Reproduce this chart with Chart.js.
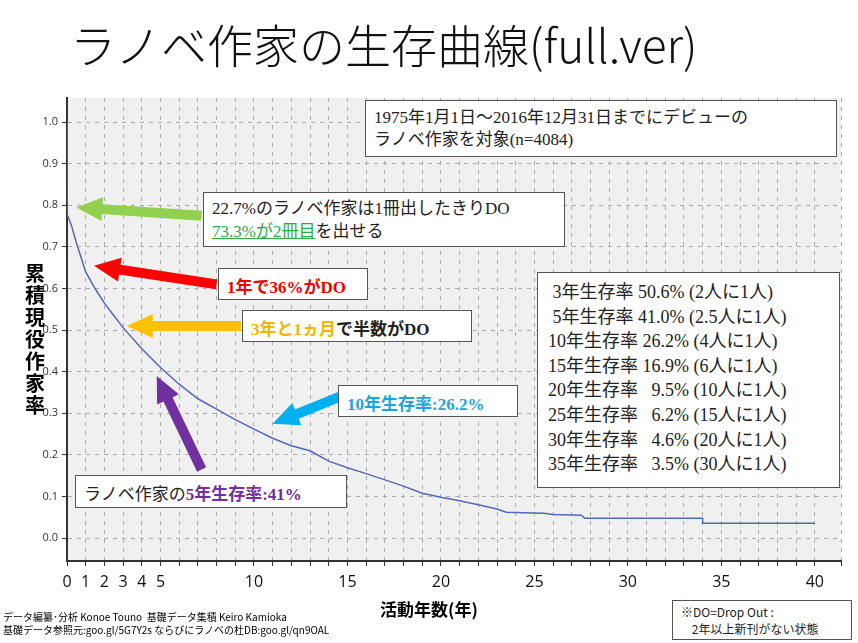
<!DOCTYPE html>
<html><head><meta charset="utf-8">
<script src="https://cdn.jsdelivr.net/npm/chart.js@4/dist/chart.umd.min.js"></script>
<style>
body{margin:0;width:858px;height:643px;position:relative;background:#fff;font-family:"Noto Sans CJK JP",sans-serif;overflow:hidden}
#wrap{position:absolute;left:0;top:0;width:858px;height:643px}
.box{position:absolute;background:#fff;border:1px solid #555;box-sizing:border-box;font-family:"Liberation Serif","Noto Sans CJK JP",serif;color:#222;white-space:nowrap}
.t{position:absolute;white-space:nowrap}
</style></head><body>
<div id="wrap"><canvas id="c" width="858" height="643"></canvas></div>
<div class="t" style="left:70px;top:10px;font-size:46px;color:#111;font-weight:300">ラノベ作家の生存曲線(full.ver)</div>
<div class="t" style="left:25px;top:262px;width:22px;font-size:20px;font-weight:bold;line-height:22px;white-space:normal">累積現役作家率</div>
<div class="t" style="left:380px;top:596px;font-size:17px;font-weight:bold">活動年数(年)</div>
<div class="t" style="left:3px;top:610px;font-size:10px;line-height:13px">データ編纂･分析 Konoe Touno&nbsp; 基礎データ集積 Keiro Kamioka<br>基礎データ参照元:goo.gl/5G7Y2s ならびにラノベの杜DB:goo.gl/qn9OAL</div>
<div class="box" style="left:365px;top:100px;width:472px;height:57px;font-size:17px;padding:6px 8px;line-height:22px">1975年1月1日～2016年12月31日までにデビューの<br>ラノベ作家を対象(n=4084)</div>
<div class="box" style="left:203px;top:192px;width:362px;height:55px;font-size:17px;padding:4px 8px;line-height:23px">22.7%のラノベ作家は1冊出したきりDO<br><span style="color:#2ea84f;text-decoration:underline">73.3%が2冊目</span>を出せる</div>
<div class="box" style="left:218px;top:268px;width:150px;height:32px;font-size:17px;font-weight:bold;color:#e00;padding:4px 8px">1年で36%がDO</div>
<div class="box" style="left:242px;top:310px;width:230px;height:32px;font-size:17px;font-weight:bold;padding:4px 8px"><span style="color:#f5b400">3年と1ヵ月</span>で半数がDO</div>
<div class="box" style="left:338px;top:385px;width:180px;height:32px;font-size:17px;font-weight:bold;color:#1aa5e0;padding:4px 8px">10年生存率:26.2%</div>
<div class="box" style="left:75px;top:475px;width:272px;height:33px;font-size:17px;padding:4px 8px">ラノベ作家の<b style="color:#7030a0">5年生存率:41%</b></div>
<div class="box" style="left:537px;top:272px;width:303px;height:216px;font-size:18px;padding:7px 10px;line-height:24.6px">
&nbsp;3年生存率 50.6% (2人に1人)<br>&nbsp;5年生存率 41.0% (2.5人に1人)<br>10年生存率 26.2% (4人に1人)<br>15年生存率 16.9% (6人に1人)<br>20年生存率&nbsp;&nbsp; 9.5% (10人に1人)<br>25年生存率&nbsp;&nbsp; 6.2% (15人に1人)<br>30年生存率&nbsp;&nbsp; 4.6% (20人に1人)<br>35年生存率&nbsp;&nbsp; 3.5% (30人に1人)</div>
<div class="box" style="left:672px;top:600px;width:180px;height:40px;font-size:12px;padding:2px 8px;line-height:17px;font-family:'Noto Sans CJK JP'">※DO=Drop Out :<br>&nbsp;&nbsp;&nbsp;&nbsp;2年以上新刊がない状態</div>
<script>
// survival curve
const years = [0, 0, 0.25, 0.5, 1, 1.5, 2, 2.5, 3, 4, 5, 6, 7, 8, 9, 10, 11, 12, 13, 14, 15, 16, 17, 18, 19, 20, 21, 22, 23, 23.5, 25.5, 26, 27.5, 27.7, 34, 34, 40];
const survival = [1.0, 0.78, 0.75, 0.71, 0.64, 0.60, 0.565, 0.535, 0.506, 0.455, 0.41, 0.37, 0.335, 0.31, 0.285, 0.262, 0.24, 0.222, 0.21, 0.185, 0.169, 0.155, 0.14, 0.125, 0.108, 0.098, 0.09, 0.08, 0.07, 0.062, 0.06, 0.057, 0.055, 0.048, 0.048, 0.036, 0.036];
const xLabelYears = [0, 1, 2, 3, 4, 5, 10, 15, 20, 25, 30, 35, 40];
const yTicks = [0, 0.1, 0.2, 0.3, 0.4, 0.5, 0.6, 0.7, 0.8, 0.9, 1.0];

// arrows: [tailYear, tailVal, tipYear, tipVal, colour]
const arrows = [
    [7.2, 0.775, 0.5, 0.795, '#92d050'],
    [8.0, 0.61, 1.45, 0.655, '#ff0000'],
    [9.3, 0.51, 3.2, 0.51, '#ffc000'],
    [14.6, 0.34, 11.0, 0.275, '#00b0f0'],
    [7.2, 0.165, 4.8, 0.39, '#7030a0']
];

const arrowPlugin = {
    id: 'arrows',
    afterDatasetsDraw(chart) {
        const { ctx, scales: { x, y } } = chart;
        arrows.forEach(([x0, y0, x1, y1, col]) => {
            const ax = x.getPixelForValue(x0), ay = y.getPixelForValue(y0);
            const bx = x.getPixelForValue(x1), by = y.getPixelForValue(y1);
            const ang = Math.atan2(by - ay, bx - ax);
            const head = 26, hw = 12, sw = 5;
            const hx = bx - head * Math.cos(ang), hy = by - head * Math.sin(ang);
            const nx = -Math.sin(ang), ny = Math.cos(ang);
            ctx.save();
            ctx.fillStyle = col;
            ctx.beginPath();
            ctx.moveTo(ax + nx * sw, ay + ny * sw);
            ctx.lineTo(hx + nx * sw, hy + ny * sw);
            ctx.lineTo(hx + nx * hw, hy + ny * hw);
            ctx.lineTo(bx, by);
            ctx.lineTo(hx - nx * hw, hy - ny * hw);
            ctx.lineTo(hx - nx * sw, hy - ny * sw);
            ctx.lineTo(ax - nx * sw, ay - ny * sw);
            ctx.closePath();
            ctx.fill();
            ctx.restore();
        });
    }
};

const bgPlugin = {
    id: 'bg',
    beforeDraw(chart) {
        const { ctx, chartArea: a } = chart;
        ctx.save();
        ctx.fillStyle = '#f0f0f0';
        ctx.fillRect(a.left, a.top, a.right - a.left, a.bottom - a.top);
        ctx.restore();
    }
};

new Chart(document.getElementById('c'), {
    type: 'line',
    data: { datasets: [{
        data: years.map((v, i) => ({ x: v, y: survival[i] })),
        borderColor: '#5468b4', borderWidth: 1.5, pointRadius: 0, tension: 0, fill: false
    }] },
    options: {
        responsive: false, animation: false,
        layout: { padding: { left: 0, top: 98, right: 17, bottom: 0 } },
        plugins: { legend: { display: false }, tooltip: { enabled: false } },
        scales: {
            x: {
                type: 'linear', min: 0, max: 41.4,
                afterFit: s => { s.height = 82; },
                ticks: { stepSize: 1, autoSkip: false, maxRotation: 0, color: '#111', padding: 7,
                    font: { size: 16, family: 'Open Sans' },
                    callback: v => xLabelYears.includes(v) ? String(v) : '' },
                grid: { color: '#aaa', tickColor: '#333', tickLength: 5, drawOnChartArea: true },
                border: { color: '#333', width: 2, dash: [4, 5] }
            },
            y: {
                min: -0.055, max: 1.058,
                afterFit: s => { s.width = 67; },
                afterBuildTicks: s => { s.ticks = yTicks.map(v => ({ value: v })); },
                ticks: { color: '#333', font: { size: 11, family: 'Open Sans' }, padding: 4,
                    callback: v => v.toFixed(1) },
                grid: { color: '#aaa', tickColor: '#333', tickLength: 5 },
                border: { color: '#333', width: 2, dash: [4, 5] }
            }
        }
    },
    plugins: [bgPlugin, arrowPlugin]
});
</script>
</body></html>
